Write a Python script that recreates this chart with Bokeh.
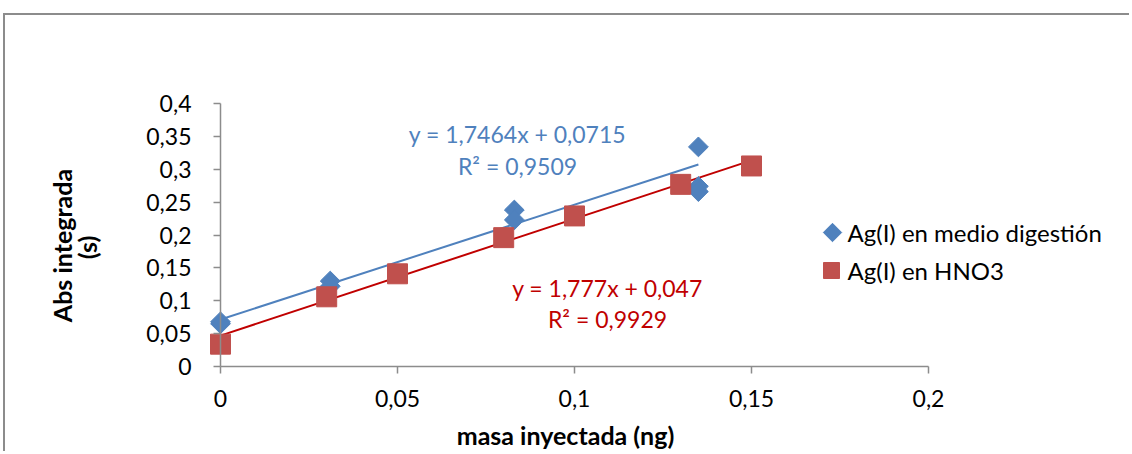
import math
from bokeh.plotting import figure
from bokeh.models import (Label, FixedTicker, LinearAxis,
                          CustomJSTickFormatter, Range1d)
from bokeh.embed import file_html
from bokeh.resources import INLINE

# ---- data ----
dig_x = [0.0, 0.0, 0.031, 0.031, 0.083, 0.083, 0.135, 0.135, 0.135]
dig_y = [0.065, 0.068, 0.130, 0.122, 0.238, 0.223, 0.334, 0.274, 0.266]
hno3_x = [0.0, 0.03, 0.05, 0.08, 0.10, 0.13, 0.15]
hno3_y = [0.034, 0.106, 0.141, 0.196, 0.229, 0.277, 0.305]
dig_slope, dig_icpt, dig_r2 = 1.7464, 0.0715, "0,9509"
hno3_slope, hno3_icpt, hno3_r2 = 1.777, 0.047, "0,9929"
dig_eq = "y = 1,7464x + 0,0715"
hno3_eq = "y = 1,777x + 0,047"
series_names = ["Ag(I) en medio digestión", "Ag(I) en HNO3"]
x_ticks = [0, 0.05, 0.1, 0.15, 0.2]
y_ticks = [0, 0.05, 0.1, 0.15, 0.2, 0.25, 0.3, 0.35, 0.4]
x_title = "masa inyectada (ng)"
y_title = ["Abs integrada", "(s)"]

BLUE = "#4F81BD"
RED = "#C0504D"
DARKRED = "#C00000"
AXIS = "#8C8C8C"
FONT = "Lato"

# ---- layout (pixels) ----
OX, OY = 5, 15                # page position of the canvas
W, H = 1126, 438              # canvas size
X0_PX, X1_PX = 215, 923       # canvas px of x=0 and x=0.2
Y0_PX, Y1_PX = 351, 88        # canvas px (from top) of y=0 and y=0.4
xmin, xmax = x_ticks[0], x_ticks[-1]
ymin, ymax = y_ticks[0], y_ticks[-1]
kx = (X1_PX - X0_PX) / (xmax - xmin)
ky = (Y0_PX - Y1_PX) / (ymax - ymin)
x_range = Range1d(xmin - X0_PX / kx, xmin + (W - X0_PX) / kx)
y_range = Range1d(ymin - (H - Y0_PX) / ky, ymin + Y0_PX / ky)


def px(page_x, page_y):
    """page pixel position -> data coordinates (for layout of texts/legend)"""
    return (xmin + (page_x - OX - X0_PX) / kx,
            ymin + (Y0_PX - (page_y - OY)) / ky)


p = figure(width=W, height=H, output_backend="svg", toolbar_location=None,
           x_range=x_range, y_range=y_range,
           x_axis_location=None, y_axis_location=None,
           min_border=0, margin=(OY - 2, 0, 0, OX - 2),
           background_fill_color="white", border_fill_color="white")
p.styles = {"border-top": "2px solid #8C8C8C", "border-left": "2px solid #8C8C8C"}
p.outline_line_color = None
p.xgrid.visible = False
p.ygrid.visible = False

fmt = CustomJSTickFormatter(code="""
return tick.toFixed(2).replace(/0+$/,'').replace(/\\.$/,'').replace('.',',');
""")
xaxis = LinearAxis(fixed_location=0, bounds=(xmin, xmax))
yaxis = LinearAxis(fixed_location=0, bounds=(ymin, ymax))
for ax, ticks, standoff in ((xaxis, x_ticks, 16), (yaxis, y_ticks, 22)):
    ax.ticker = FixedTicker(ticks=ticks)
    ax.formatter = fmt
    ax.axis_line_color = AXIS
    ax.axis_line_width = 1.5
    ax.major_tick_line_color = AXIS
    ax.major_tick_line_width = 1.5
    ax.major_tick_out = 7
    ax.major_tick_in = 0
    ax.minor_tick_line_color = None
    ax.major_label_text_font = FONT
    ax.major_label_text_font_size = "23px"
    ax.major_label_text_color = "black"
    ax.major_label_standoff = standoff
p.add_layout(xaxis, "below")
p.add_layout(yaxis, "left")

# trendlines
dxs = [min(dig_x), max(dig_x)]
hxs = [min(hno3_x), max(hno3_x)]
p.line(dxs, [dig_slope * v + dig_icpt for v in dxs], line_color=BLUE, line_width=2)
p.line(hxs, [hno3_slope * v + hno3_icpt for v in hxs], line_color=DARKRED, line_width=2)

# markers (diamond = square rotated by 45 degrees)
p.scatter(dig_x, dig_y, marker="square", angle=math.pi / 4, size=14,
          fill_color=BLUE, line_color=BLUE)
p.scatter(hno3_x, hno3_y, marker="square", size=20,
          fill_color=RED, line_color=RED)

# equations
for txt, (x, y), col in ((dig_eq, px(517, 133), BLUE),
                         ("R² = " + dig_r2, px(517, 165), BLUE),
                         (hno3_eq, px(607, 287), DARKRED),
                         ("R² = " + hno3_r2, px(607, 318), DARKRED)):
    p.add_layout(Label(x=x, y=y, text=txt, text_color=col, text_font=FONT,
                       text_font_size="23px", text_align="center",
                       text_baseline="middle"))

# axis titles
tx, ty = px(565, 434)
p.add_layout(Label(x=tx, y=ty, text=x_title, text_font=FONT,
                   text_font_style="bold", text_font_size="25px",
                   text_color="black",
                   text_align="center", text_baseline="middle"))
for txt, (x, y) in ((y_title[0], px(61, 245)), (y_title[1], px(86.5, 247))):
    p.add_layout(Label(x=x, y=y, text=txt, text_font=FONT,
                       text_font_style="bold", text_font_size="25px",
                       text_color="black", text_align="center",
                       text_baseline="middle", angle=math.pi / 2))

# legend (drawn by hand so that the diamond keeps its rotation)
lx1, ly1 = px(832, 232)
lx2, ly2 = px(831, 270)
p.scatter([lx1], [ly1], marker="square", angle=math.pi / 4, size=13,
          fill_color=BLUE, line_color=BLUE)
p.scatter([lx2], [ly2], marker="square", size=16,
          fill_color=RED, line_color=RED)
for name, (x, y) in ((series_names[0], px(847, 232)), (series_names[1], px(847, 270))):
    p.add_layout(Label(x=x, y=y, text=name, text_font=FONT,
                       text_font_size="24px", text_color="black",
                       text_align="left", text_baseline="middle"))

open("out.html", "w").write(file_html(p, INLINE))
